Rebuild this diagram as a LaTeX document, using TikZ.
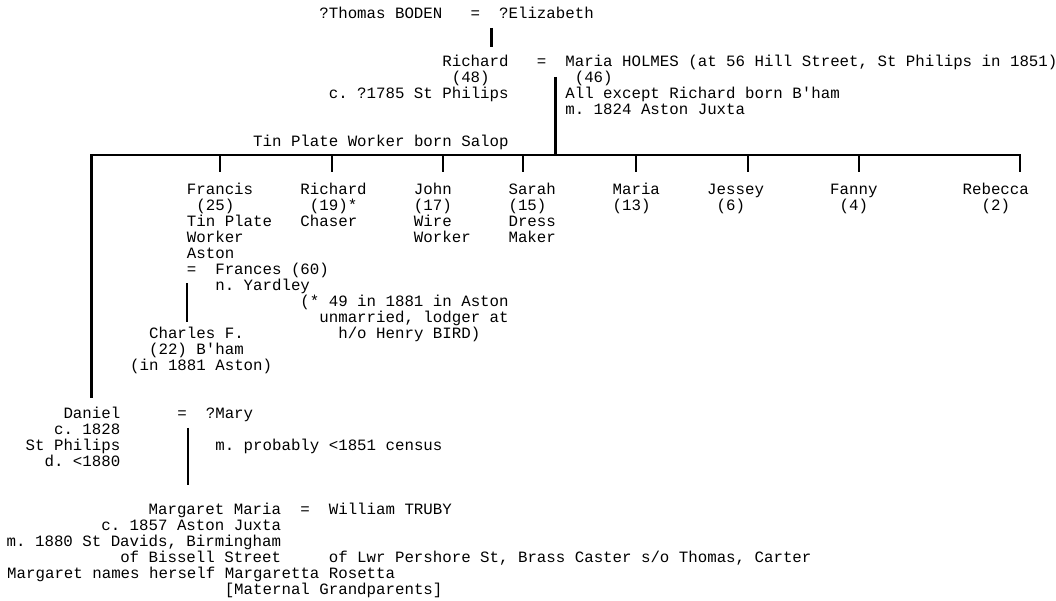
\documentclass[tikz,border=0pt]{standalone}
\usepackage{fontspec}
\setmonofont{Liberation Mono}
\usepackage{tikz}
\frenchspacing

\begin{document}
\begin{tikzpicture}[x=9.46pt, y=-16pt,
    txt/.style={font=\fontsize{15.77}{16}\selectfont\ttfamily, inner sep=0pt, anchor=base west, align=left},
    txtr/.style={txt, anchor=base east, align=right},
    vline/.style={line width=2.8pt},
    hline/.style={line width=2pt}]
  \useasboundingbox (-0.74,-1.17) rectangle (110.89,36.39);

  % blocks of several lines sit on the baseline of their last line

  % first generation
  \node[txt] (thomas) at (33,0) {?Thomas BODEN};
  \node[txt] (eqa) at (49,0) {=};
  \node[txt] (elizabeth) at (52,0) {?Elizabeth};

  % second generation
  \node[txt] (richard) at (46,4) {Richard\\~(48)};
  \node[txt] (richardbap) at (34,5) {c. ?1785 St Philips};
  \node[txt] (richardjob) at (26,8) {Tin Plate Worker born Salop};
  \node[txt] (eqb) at (56,3) {=};
  \node[txt] (maria) at (59,6) {Maria HOLMES (at 56 Hill Street, St Philips in 1851)\\~(46)\\All except Richard born B'ham\\m. 1824 Aston Juxta};

  % children of Richard and Maria
  \node[txt] (francis) at (19,15) {Francis\\~(25)\\Tin Plate\\Worker\\Aston};
  \node[txt] (eqc) at (19,16) {=};
  \node[txt] (frances) at (22,17) {Frances (60)\\n. Yardley};
  \node[txt] (richardjr) at (31,13) {Richard\\~(19)*\\Chaser};
  \node[txt] (richardnote) at (31,20) {(* 49 in 1881 in Aston\\~~unmarried, lodger at\\~~~~h/o Henry BIRD)};
  \node[txt] (john) at (43,14) {John\\(17)\\Wire\\Worker};
  \node[txt] (sarah) at (53,14) {Sarah\\(15)\\Dress\\Maker};
  \node[txt] (mariajr) at (64,12) {Maria\\(13)};
  \node[txt] (jessey) at (74,12) {Jessey\\~(6)};
  \node[txt] (fanny) at (87,12) {Fanny\\~(4)};
  \node[txt] (rebecca) at (101,12) {Rebecca\\~~(2)};
  \node[txt] (charles) at (13,22) {~~Charles F.\\~~(22) B'ham\\(in 1881 Aston)};

  % Daniel
  \node[txtr] (daniel) at (12,28) {Daniel\\c. 1828\\St Philips\\d. <1880};
  \node[txt] (eqd) at (18,25) {=};
  \node[txt] (mary) at (21,25) {?Mary};
  \node[txt] (danielmar) at (22,27) {m. probably <1851 census};

  % Margaret
  \node[txtr] (margaret) at (29,34) {Margaret Maria\\c. 1857 Aston Juxta\\m. 1880 St Davids, Birmingham\\of Bissell Street};
  \node[txt] (eqe) at (31,31) {=};
  \node[txt] (william) at (34,31) {William TRUBY};
  \node[txt] (williamof) at (34,34) {of Lwr Pershore St, Brass Caster s/o Thomas, Carter};
  \node[txt] (margaretnote) at (0,35) {Margaret names herself Margaretta Rosetta};
  \node[txt] (caption) at (23,36) {[Maternal Grandparents]};

  % descent lines
  \coordinate (ta) at (51.24,0.58);
  \coordinate (tb) at (51.24,1.77);
  \draw[vline] (ta) -- (tb);
  \coordinate (ra) at (57.98,3.64);
  \coordinate (rb) at (57.98,8.52);
  \draw[vline] (ra) -- (rb);

  % sibling bar
  \coordinate (barl) at (8.95,8.52);
  \coordinate (barr) at (107.08,8.52);
  \coordinate (dan) at (8.95,23.64);
  \draw[hline, line cap=rect] (barl) -- (barr);
  \draw[vline, line cap=rect] (barl) -- (dan);
  \foreach \x [count=\i] in {22.52,34.36,46.09,54.55,66.49,78.33,90.06,107.08} {
    \coordinate (up\i) at (\x,8.52);
    \coordinate (dn\i) at (\x,9.58);
    \draw[vline] (up\i) -- (dn\i);
  }

  % Francis to Charles, Daniel to Margaret
  \coordinate (fa) at (19.03,16.52);
  \coordinate (fb) at (19.03,18.96);
  \draw[vline] (fa) -- (fb);
  \coordinate (da) at (19.13,25.58);
  \coordinate (db) at (19.13,29.14);
  \draw[vline] (da) -- (db);
\end{tikzpicture}
\end{document}
